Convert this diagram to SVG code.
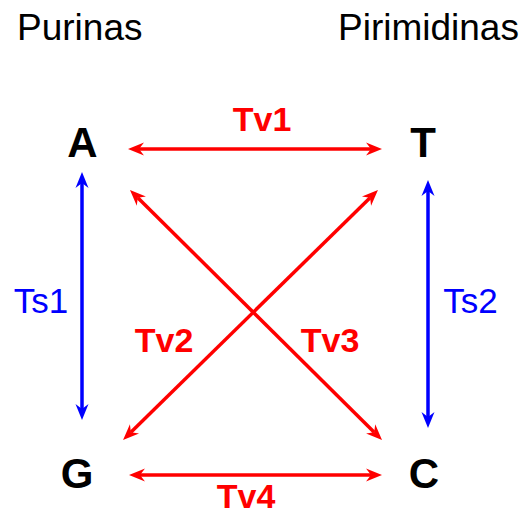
<svg xmlns="http://www.w3.org/2000/svg" width="522" height="514" viewBox="0 0 522 514">
<style>
.hdr{font-family:"Liberation Sans",Arial,sans-serif;font-size:37px;fill:#000}
.base{font-family:"Liberation Sans",Arial,sans-serif;font-size:42px;font-weight:bold;fill:#000;text-anchor:middle}
.tv{font-family:"Liberation Sans",Arial,sans-serif;font-size:34px;font-weight:bold;fill:#ff0000;text-anchor:middle}
.ts{font-family:"Liberation Sans",Arial,sans-serif;font-size:35px;fill:#0000ff;text-anchor:middle}
.r{stroke:#ff0000;stroke-width:3.5;fill:none;marker-start:url(#ar);marker-end:url(#ar)}
.b{stroke:#0000ff;stroke-width:3.5;fill:none;marker-start:url(#ab);marker-end:url(#ab)}
</style>
<defs>
<marker id="ar" markerUnits="userSpaceOnUse" markerWidth="20" markerHeight="20" refX="5" refY="7" orient="auto-start-reverse" overflow="visible">
<path d="M0,0.5 L16,7 L0,13.5 L5,7 Z" fill="#ff0000"/>
</marker>
<marker id="ab" markerUnits="userSpaceOnUse" markerWidth="20" markerHeight="20" refX="5" refY="7" orient="auto-start-reverse" overflow="visible">
<path d="M0,0.5 L16,7 L0,13.5 L5,7 Z" fill="#0000ff"/>
</marker>
</defs>
<g id="headers">
<text class="hdr" x="17" y="40">Purinas</text>
<text class="hdr" x="338" y="40">Pirimidinas</text>
</g>
<g id="connectors">
<line id="tv1" class="r" x1="139" y1="149" x2="371" y2="149"/>
<line id="tv4" class="r" x1="140" y1="475" x2="371" y2="475"/>
<line id="ts1" class="b" x1="82" y1="183" x2="82" y2="409"/>
<line id="ts2" class="b" x1="428" y1="191" x2="428" y2="417"/>
<line id="tv2" class="r" x1="130.9" y1="432.3" x2="370.1" y2="197.7"/>
<line id="tv3" class="r" x1="137.8" y1="197.7" x2="374.2" y2="432.3"/>
</g>
<g id="labels">
<text class="tv" x="262" y="131">Tv1</text>
<text class="tv" x="164" y="352">Tv2</text>
<text class="tv" x="330" y="352">Tv3</text>
<text class="tv" x="246" y="508">Tv4</text>
<text class="ts" x="41" y="313">Ts1</text>
<text class="ts" x="470.5" y="313">Ts2</text>
</g>
<g id="node-A"><text class="base" x="82.5" y="157">A</text></g>
<g id="node-T"><text class="base" x="423" y="157">T</text></g>
<g id="node-G"><text class="base" x="77" y="488">G</text></g>
<g id="node-C"><text class="base" x="424" y="488">C</text></g>
</svg>
